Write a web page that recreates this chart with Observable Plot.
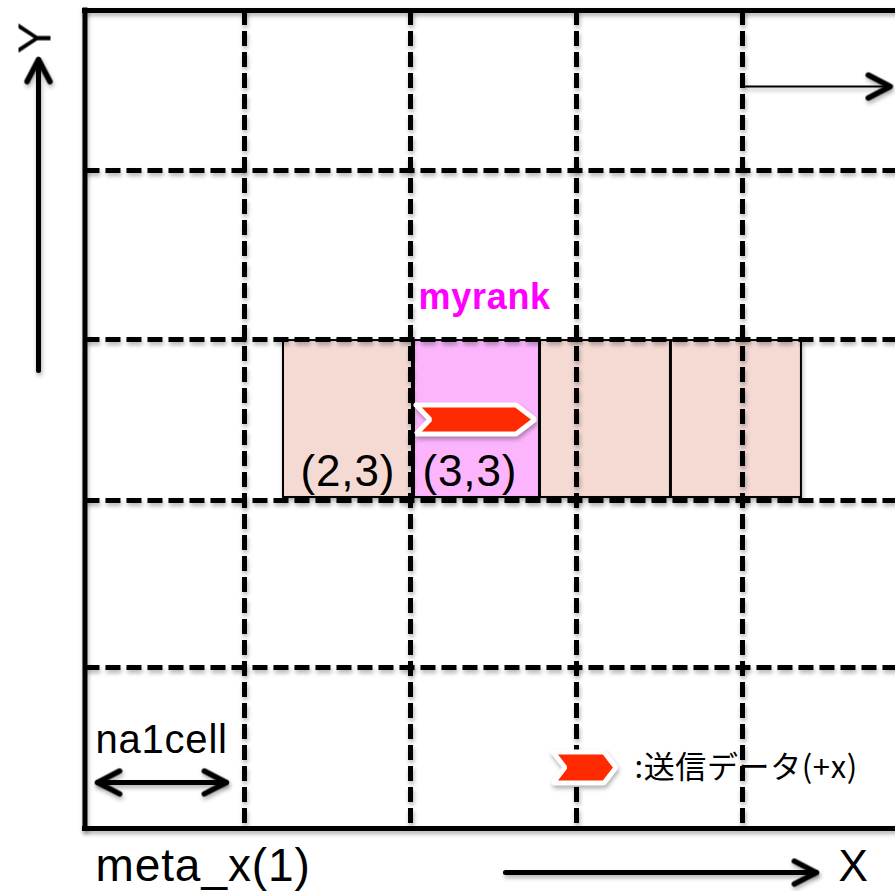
<!DOCTYPE html>
<html>
<head>
<meta charset="utf-8">
<script src="https://cdn.jsdelivr.net/npm/d3@7"></script>
<script src="https://cdn.jsdelivr.net/npm/@observablehq/plot@0.6"></script>
<style>
  html, body { margin: 0; padding: 0; background: #fff; }
  #chart text { letter-spacing: 0.02em; }
</style>
</head>
<body>
<div id="chart"></div>
<script>
// ---- Diagram data (in "cell" units: x = columns, y = rows counted from the top) ----
const gridCols = [1, 2, 3, 4];                    // dashed vertical cell borders
const gridRows = [0.977, 2.009, 2.991, 4.011];    // dashed horizontal cell borders
const frameLeft = 0.039, frameTop = 0, frameBottom = 4.994, frameRight = 5.3;

// process (rank) boxes along row 3
const rankLabels = ["(2,3)", "(3,3)", "", ""];
const rankX1 = [1.235, 2.024, 2.783, 3.572];
const rankX2 = [2.012, 2.777, 3.566, 4.355];
const rankIsMe = [false, true, false, false];
const rankTop = 2.015, rankBottom = 2.973;
const rankLabelX = [1.337, 2.072];
const rankLabelY = 2.814;

// send-data chevrons (main one in myrank, one in the legend)
const sendArrows = [
  {id: "main",   x1: 2.033, x2: 2.750, y: 2.497, h: 0.0885, notch: 0.084, head: 0.114},
  {id: "legend", x1: 2.858, x2: 3.238, y: 4.622, h: 0.0946, notch: 0.072, head: 0.072}
];

// arrows (start -> tip)
const arrows = [
  {name: "Y",       x1: -0.241, y1: 2.198, x2: -0.241, y2: 0.300, w: 5},
  {name: "shift",   x1: 4.006,  y1: 0.464, x2: 4.890,  y2: 0.464, w: 2},
  {name: "cellL",   x1: 0.503,  y1: 4.713, x2: 0.115,  y2: 4.713, w: 5},
  {name: "cellR",   x1: 0.503,  y1: 4.713, x2: 0.890,  y2: 4.713, w: 5},
  {name: "X",       x1: 2.572,  y1: 5.263, x2: 4.445,  y2: 5.263, w: 5}
];

// text labels
const myrankLabel = [{text: "myrank", x: 2.048, y: 1.749}];
const cellLabel   = [{text: "na1cell", x: 0.102, y: 4.452}];
const metaLabel   = [{text: "meta_x(1)", x: 0.102, y: 5.222}];
const xLabel      = [{text: "X", x: 4.578, y: 5.231}];
const yLabel      = [{text: "Y", x: -0.259, y: 0.165}];
const legendLabel = [{text: ":送信データ(+x)", x: 3.349, y: 4.628}];

// ---- derived tables ----
const rankBoxes = rankX1.map((x1, i) => ({
  x1, x2: rankX2[i], y1: rankTop, y2: rankBottom,
  fill: rankIsMe[i] ? "#fcb4fc" : "#f5dad4"
}));
const rankTexts = rankLabels
  .map((t, i) => ({text: t, x: rankLabelX[i], y: rankLabelY}))
  .filter(d => d.text);

const chevronPts = sendArrows.flatMap(a => [
  [a.x1, a.y - a.h], [a.x2 - a.head, a.y - a.h], [a.x2, a.y],
  [a.x2 - a.head, a.y + a.h], [a.x1, a.y + a.h], [a.x1 + a.notch, a.y],
  [a.x1, a.y - a.h]
].map(([x, y]) => ({id: a.id, x, y})));

const heads = arrows.map(a => ({
  x: a.x2, y: a.y2,
  rotate: a.x2 > a.x1 ? 0 : a.x2 < a.x1 ? 180 : (a.y2 < a.y1 ? -90 : 90)
}));

const chevronHead = {
  draw(ctx, size) {
    const r = Math.sqrt(size / Math.PI);
    ctx.moveTo(-r, -r * 0.52);
    ctx.lineTo(0, 0);
    ctx.lineTo(-r, r * 0.52);
  }
};

const font = "Liberation Sans, Arial, Helvetica, sans-serif";

const svg = Plot.plot({
  width: 895,
  height: 891,
  margin: 0,
  x: {domain: [-78 / 166, (895 - 78) / 166], axis: null},
  y: {domain: [-10 / 163.8, (891 - 10) / 163.8], reverse: true, axis: null},
  color: {type: "identity"},
  style: {background: "white", fontFamily: font},
  marks: [
    Plot.rect(rankBoxes, {x1: "x1", x2: "x2", y1: "y1", y2: "y2", fill: "fill", stroke: "black", strokeWidth: 2}),
    Plot.ruleX(gridCols, {x: d => d, y1: frameTop, y2: frameBottom, stroke: "black", strokeWidth: 5, strokeDasharray: "15 6"}),
    Plot.ruleY(gridRows, {y: d => d, x1: frameLeft, x2: frameRight, stroke: "black", strokeWidth: 5, strokeDasharray: "15 6"}),
    Plot.ruleY([frameTop, frameBottom], {y: d => d, x1: frameLeft, x2: frameRight, stroke: "black", strokeWidth: 5, strokeLinecap: "square"}),
    Plot.ruleX([frameLeft], {x: d => d, y1: frameTop, y2: frameBottom, stroke: "black", strokeWidth: 5, strokeLinecap: "square"}),
    Plot.line(chevronPts, {x: "x", y: "y", z: "id", fill: "#ff2a00", stroke: "white", strokeWidth: 5, strokeLinejoin: "miter", curve: "linear"}),
    Plot.link(arrows, {x1: "x1", y1: "y1", x2: "x2", y2: "y2", stroke: "black", strokeWidth: "w", strokeLinecap: "round"}),
    Plot.dot(heads, {x: "x", y: "y", rotate: "rotate", symbol: chevronHead, r: 22, fill: "none", stroke: "black", strokeWidth: 5.5, strokeLinecap: "round", strokeLinejoin: "round"}),
    Plot.text(rankTexts, {x: "x", y: "y", text: "text", textAnchor: "start", lineAnchor: "middle", fontSize: 44, fill: "black"}),
    Plot.text(myrankLabel, {x: "x", y: "y", text: "text", textAnchor: "start", lineAnchor: "middle", fontSize: 36, fontWeight: "bold", fill: "#ff00ff"}),
    Plot.text(cellLabel, {x: "x", y: "y", text: "text", textAnchor: "start", lineAnchor: "middle", fontSize: 40, fill: "black"}),
    Plot.text(metaLabel, {x: "x", y: "y", text: "text", textAnchor: "start", lineAnchor: "middle", fontSize: 46, fill: "black"}),
    Plot.text(xLabel, {x: "x", y: "y", text: "text", textAnchor: "start", lineAnchor: "middle", fontSize: 44, fill: "black"}),
    Plot.text(yLabel, {x: "x", y: "y", text: "text", textAnchor: "middle", lineAnchor: "middle", rotate: -90, fontSize: 47, fill: "black"}),
    Plot.text(legendLabel, {x: "x", y: "y", text: "text", textAnchor: "start", lineAnchor: "middle", fontSize: 31, fill: "black", fontFamily: "Noto Sans CJK JP, sans-serif"})
  ]
});

d3.select(svg)
  .selectAll('g[aria-label="rule"], g[aria-label="link"], g[aria-label="dot"], g[aria-label="rect"], g[aria-label="line"]')
  .style("filter", "drop-shadow(1px 3px 2px rgba(0,0,0,0.3))");

document.getElementById("chart").appendChild(svg);
</script>
</body>
</html>
